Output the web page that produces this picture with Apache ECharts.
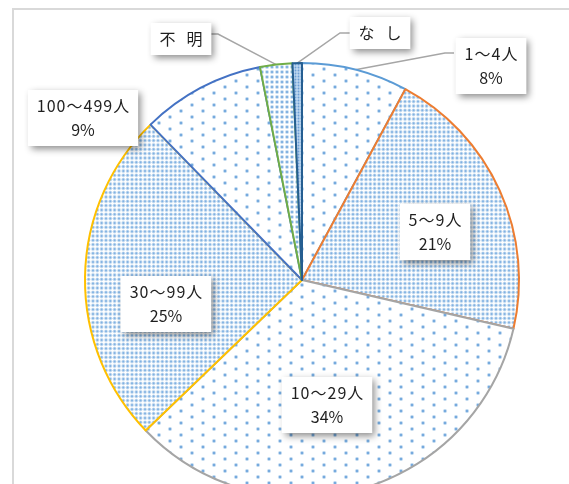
<!DOCTYPE html>
<html>
<head>
<meta charset="utf-8">
<script src="https://cdn.jsdelivr.net/npm/echarts@6/dist/echarts.min.js"></script>
<style>
  html, body { margin: 0; padding: 0; background: #fff; }
  #chart-container { width: 569px; height: 484px; }
</style>
</head>
<body>
<div id="chart-container"></div>
<script>
// data, clockwise from 12 o'clock
var categories = ['1～4人', '5～9人', '10～29人', '30～99人', '100～499人', '不明', 'なし'];
var values = [7.9, 20.7, 34.2, 24.9, 9.2, 2.4, 0.7];
var showPct = [true, true, true, true, true, false, false];

// excel-like border colours per slice
var borderColors = ['#5b9bd5', '#ed7d31', '#a5a5a5', '#ffc000', '#4472c4', '#70ad47', '#255e91'];
// which dot pattern each slice uses
var patternKind = ['sparse', 'dense', 'sparse', 'dense', 'sparse', 'mid', 'fine'];
// where each label box sits (centre), and elbow of leader line if any
var labelCenter = [[491, 66], [435, 232], [327, 405], [166, 304], [83, 118], [181, 39], [380, 33]];
var labelElbow = [[445, 53], null, null, null, null, [218, 34], [340, 33]];
var labelEnd = [[454, 53], null, null, null, null, [209, 34], [353, 33]];

function dots(w, h, pts, r, col, bg) {
  var c = document.createElement('canvas');
  c.width = w;
  c.height = h;
  var ctx = c.getContext('2d');
  ctx.fillStyle = bg || '#fff';
  ctx.fillRect(0, 0, w, h);
  pts.forEach(function (p) {
    ctx.fillStyle = 'rgba(157,195,230,0.6)';
    ctx.beginPath();
    ctx.arc(p[0], p[1], r + 0.9, 0, Math.PI * 2);
    ctx.fill();
    ctx.fillStyle = col;
    ctx.beginPath();
    ctx.arc(p[0], p[1], r, 0, Math.PI * 2);
    ctx.fill();
  });
  return { image: c, repeat: 'repeat' };
}

var patterns = {
  sparse: dots(22, 12, [[5, 3], [16, 9]], 1.2, '#74a9de'),
  dense: dots(13, 13, [[2, 2], [6.3, 2], [10.6, 2], [2, 6.3], [6.3, 6.3], [10.6, 6.3], [2, 10.6], [6.3, 10.6], [10.6, 10.6]], 1.0, '#80b1e2'),
  mid: dots(10, 10, [[2, 2], [7, 2], [2, 7], [7, 7]], 1.1, '#74a9de'),
  fine: dots(6, 6, [[1.5, 1.5], [4.5, 1.5], [1.5, 4.5], [4.5, 4.5]], 0.9, '#6d9fd6', '#e9f1fa')
};

function spaced(s) {
  return s.split('').join('\u200a');
}

var pieData = categories.map(function (name, i) {
  return {
    name: name,
    value: values[i],
    itemStyle: {
      color: patterns[patternKind[i]],
      borderColor: borderColors[i],
      borderWidth: 2
    },
    labelLine: { show: !!labelElbow[i] }
  };
});

var dom = document.getElementById('chart-container');
var myChart = echarts.init(dom, null, { renderer: 'canvas' });

var option = {
  animation: false,
  backgroundColor: '#fff',
  graphic: [
    {
      type: 'rect',
      shape: { x: 13, y: 9, width: 700, height: 700 },
      style: { fill: 'none', stroke: '#d9d9d9', lineWidth: 2 },
      silent: true
    }
  ],
  series: [
    {
      type: 'pie',
      center: [302, 280],
      radius: 217,
      startAngle: 90,
      clockwise: true,
      avoidLabelOverlap: false,
      silent: true,
      data: pieData,
      label: {
        show: true,
        position: 'outside',
        formatter: function (p) {
          if (!showPct[p.dataIndex]) {
            return '{t|' + p.name.split('').join('   ') + '}';
          }
          return '{n|' + spaced(p.name) + '}\n{p|' + Math.round(p.percent) + '%}';
        },
        backgroundColor: '#fff',
        padding: [4, 9],
        shadowColor: 'rgba(0,0,0,0.45)',
        shadowBlur: 7,
        shadowOffsetX: 3,
        shadowOffsetY: 3,
        rich: {
          n: {
            fontFamily: 'Noto Sans CJK JP',
            fontSize: 16,
            color: '#1f1f1f',
            lineHeight: 24,
            align: 'center'
          },
          p: {
            fontFamily: 'Noto Sans CJK JP',
            fontSize: 16,
            color: '#1f1f1f',
            lineHeight: 24,
            align: 'center'
          },
          t: {
            fontFamily: 'Noto Sans CJK JP',
            fontSize: 16,
            color: '#1f1f1f',
            lineHeight: 24,
            align: 'center'
          }
        }
      },
      labelLine: {
        show: true,
        lineStyle: { color: '#a6a6a6', width: 1.5 }
      },
      labelLayout: function (params) {
        var i = params.dataIndex;
        var res = {
          x: labelCenter[i][0],
          y: labelCenter[i][1],
          align: 'center',
          verticalAlign: 'middle'
        };
        if (labelElbow[i] && params.labelLinePoints) {
          res.labelLinePoints = [params.labelLinePoints[0], labelElbow[i], labelEnd[i]];
        }
        return res;
      },
      emphasis: { disabled: true }
    }
  ]
};

myChart.setOption(option);

window.addEventListener('resize', myChart.resize);
</script>
</body>
</html>
